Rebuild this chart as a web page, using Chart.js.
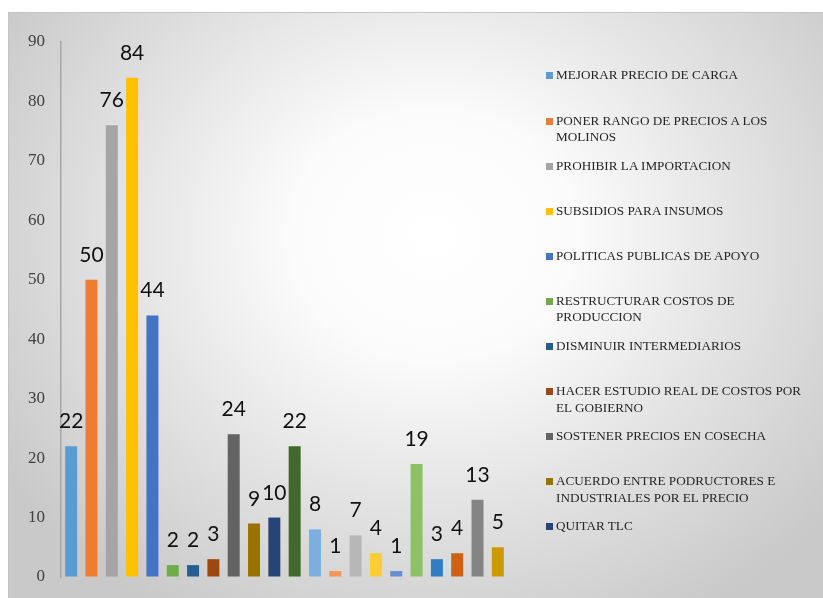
<!DOCTYPE html>
<html>
<head>
<meta charset="utf-8">
<script src="https://cdn.jsdelivr.net/npm/chart.js@4/dist/chart.umd.min.js"></script>
<style>
  html, body { margin: 0; padding: 0; background: #fff; }
  #wrap { position: relative; width: 823px; height: 598px; overflow: hidden; background: #fff; }
  #frame {
    position: absolute; left: 8px; top: 12px; width: 815px; height: 586px;
    border-top: 1px solid #c4c4c4; border-left: 1px solid #c4c4c4;
    background: radial-gradient(ellipse 62% 75% at 52% 38%, #ffffff 0%, #fbfbfb 28%, #e4e4e4 60%, #c9c9c9 100%);
  }
  #chart { position: absolute; left: 0; top: 0; }
  #legend { position: absolute; left: 0; top: 0; width: 823px; height: 598px; pointer-events: none; }
  .lg-item { position: absolute; left: 546px; width: 262px; font-family: "Liberation Serif", "Times New Roman", serif; font-size: 13.2px; line-height: 16.5px; color: #262626; }
  .lg-box { position: absolute; left: 0; top: 5px; width: 7px; height: 7px; }
  .lg-text { margin-left: 10px; }
</style>
</head>
<body>
<div id="wrap">
  <div id="frame"></div>
  <canvas id="chart" width="823" height="598"></canvas>
  <div id="legend"></div>
</div>
<script>
// =========================================
// DATOS
// =========================================
const legendNames = [
    'MEJORAR PRECIO DE CARGA',
    'PONER RANGO DE PRECIOS A LOS MOLINOS',
    'PROHIBIR LA IMPORTACION',
    'SUBSIDIOS PARA INSUMOS',
    'POLITICAS PUBLICAS DE APOYO',
    'RESTRUCTURAR COSTOS DE PRODUCCION',
    'DISMINUIR INTERMEDIARIOS',
    'HACER ESTUDIO REAL DE COSTOS POR EL GOBIERNO',
    'SOSTENER PRECIOS EN COSECHA',
    'ACUERDO ENTRE PODRUCTORES E INDUSTRIALES POR EL PRECIO',
    'QUITAR TLC'
];
const values = [22, 50, 76, 84, 44, 2, 2, 3, 24, 9, 10, 22, 8, 1, 7, 4, 1, 19, 3, 4, 13, 5];
const categories = values.map((_, i) => String(i + 1));
const barColors = [
    '#5B9BD5', '#ED7D31', '#A5A5A5', '#FFC000', '#4472C4', '#70AD47',
    '#255E91', '#9E480E', '#636363', '#997300', '#264478', '#43682B',
    '#7CAFDD', '#F1975A', '#B7B7B7', '#FFCD33', '#698ED0', '#8CC168',
    '#327DC2', '#D26012', '#848484', '#CC9A00'
];
const yTicks = [0, 10, 20, 30, 40, 50, 60, 70, 80, 90];

// etiquetas de valor sobre cada barra
const valueLabels = {
    id: 'valueLabels',
    afterDatasetsDraw(chart) {
        const ctx = chart.ctx;
        const meta = chart.getDatasetMeta(0);
        ctx.save();
        ctx.font = '21px Lato, "Open Sans", sans-serif';
        ctx.fillStyle = '#111';
        ctx.textAlign = 'center';
        ctx.textBaseline = 'alphabetic';
        meta.data.forEach((bar, i) => {
            ctx.fillText(String(values[i]), bar.x, bar.y - 18);
        });
        ctx.restore();
    }
};

new Chart(document.getElementById('chart'), {
    type: 'bar',
    data: {
        labels: categories,
        datasets: [{
            data: values,
            backgroundColor: barColors,
            borderWidth: 0,
            barPercentage: 0.59,
            categoryPercentage: 1
        }]
    },
    options: {
        responsive: false,
        devicePixelRatio: 1,
        animation: false,
        layout: { padding: { left: 0, top: 42, right: 315, bottom: 21 } },
        plugins: { legend: { display: false }, tooltip: { enabled: false } },
        scales: {
            x: { display: false },
            y: {
                min: 0,
                max: 90,
                afterBuildTicks: (scale) => { scale.ticks = yTicks.map(v => ({ value: v })); },
                afterFit: (scale) => { scale.width = 61; },
                ticks: {
                    padding: 0,
                    color: '#404040',
                    font: { family: '"Liberation Serif", "Times New Roman", serif', size: 17 }
                },
                grid: { display: true, color: 'rgba(0,0,0,0)', drawTicks: true, tickLength: 16 },
                border: { display: true, color: '#a6a6a6', width: 1.5 }
            }
        }
    },
    plugins: [valueLabels]
});

// leyenda HTML (con ajuste de línea)
const legendEl = document.getElementById('legend');
legendNames.forEach((name, i) => {
    const item = document.createElement('div');
    item.className = 'lg-item';
    item.style.top = (75.7 + i * 45.1 - 8.25) + 'px';
    item.innerHTML = `<span class="lg-box" style="background:${barColors[i]}"></span><div class="lg-text">${name}</div>`;
    legendEl.appendChild(item);
});
</script>
</body>
</html>
